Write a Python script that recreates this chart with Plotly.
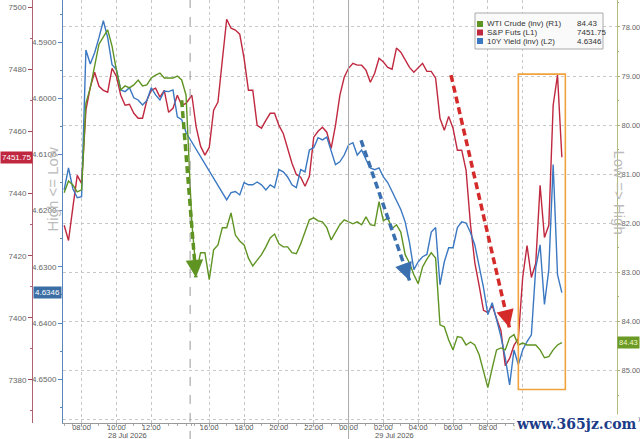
#
# S&P futures vs 10Y yield vs WTI crude - 28/29 Jul 2026 intraday
#

import pandas as pd
import plotly.graph_objects as go


########## Data (15 min bars, session break 14:15-14:55 on 28 Jul)

times_day1 = pd.date_range("2026-07-28 07:00", "2026-07-28 14:00", freq="15min")
times_day2 = pd.date_range("2026-07-28 15:00", "2026-07-29 12:15", freq="15min")
times = times_day1.append(times_day2)

# S&P futures (L1)
spx_day1 = [7429.8, 7424.9, 7435.6, 7445.9, 7443.3, 7466.9, 7474.3, 7479.1, 7474.6, 7473.3,
            7472.7, 7480.4, 7477.8, 7471.7, 7468.5, 7468.8, 7465.9, 7464.3, 7464.3, 7470.1,
            7473.3, 7474.0, 7471.1, 7473.3, 7466.2, 7467.5, 7471.7, 7468.5, 7469.1]
spx_day2 = [7471.7, 7461.4, 7455.3, 7452.4, 7454.9, 7466.9, 7469.5, 7483.0, 7496.2, 7493.3,
            7492.7, 7491.4, 7483.6, 7473.3, 7473.3, 7462.0, 7461.1, 7463.6, 7465.9, 7465.9,
            7462.0, 7459.4, 7454.9, 7449.8, 7446.2, 7445.3, 7442.4, 7445.6, 7458.2, 7460.1,
            7461.4, 7459.8, 7454.6, 7462.0, 7471.7, 7477.5, 7480.4, 7482.0, 7481.4, 7481.4,
            7479.8, 7475.9, 7478.8, 7483.6, 7482.4, 7480.7, 7480.1, 7486.9, 7485.6, 7483.3,
            7480.7, 7479.1, 7480.4, 7482.0, 7479.4, 7479.4, 7477.2, 7464.3, 7460.4, 7464.9,
            7461.1, 7454.0, 7454.0, 7447.5, 7430.1, 7417.8, 7410.4, 7402.4, 7401.7, 7404.0,
            7399.8, 7395.9, 7384.6, 7386.9, 7391.1, 7393.3, 7413.0, 7423.3, 7413.0, 7417.5,
            7442.7, 7425.9, 7429.8, 7468.5, 7478.2, 7451.75]

# 10Y yield (inverted, L2) - no prints around the break
yld_day1 = [4.6163, 4.6124, 4.6161, 4.6177, 4.6175, 4.5914, 4.5939, 4.5919, 4.5892, 4.5862,
            4.5892, 4.5940, 4.5949, 4.5985, 4.5988, 4.5981, 4.5999, 4.6003, 4.6012, 4.6004,
            4.5981, 4.5994, 4.6003, 4.5987, 4.5988, 4.5985, 4.6033, 4.6038, 4.6061]
yld_day2 = [None, None, None, None, None, None, None, None, 4.6181, 4.6168,
            4.6166, 4.6172, 4.6150, 4.6154, 4.6154, 4.6149, 4.6154, 4.6163, 4.6154, 4.6159,
            4.6127, 4.6131, 4.6140, 4.6154, 4.6159, 4.6127, 4.6131, 4.6092, 4.6088, 4.6070,
            4.6074, 4.6069, 4.6092, 4.6118, 4.6113, 4.6101, 4.6083, 4.6079, 4.6101, 4.6092,
            4.6109, 4.6124, 4.6127, 4.6124, 4.6140, 4.6150, 4.6166, 4.6181, 4.6198, 4.6220,
            4.6257, 4.6305, 4.6291, 4.6282, 4.6278, 4.6238, 4.6230, 4.6332, 4.6291, 4.6266,
            4.6266, 4.6230, 4.6220, 4.6222, 4.6239, 4.6261, 4.6296, 4.6337, 4.6385, 4.6364,
            4.6394, 4.6424, 4.6462, 4.6510, 4.6448, 4.6474, 4.6448, 4.6433, 4.6421, 4.6302,
            4.6261, 4.6367, 4.6305, 4.6118, 4.6314, 4.6346]

# WTI crude (inverted, R1)
wti_day1 = [81.38, 81.14, 81.22, 81.36, 81.32, 79.55, 79.24, 78.77, 78.35, 78.20,
            78.06, 78.39, 78.88, 79.28, 79.20, 79.24, 79.18, 79.08, 79.20, 79.18,
            79.04, 78.98, 78.94, 79.04, 79.04, 79.04, 79.00, 79.08, 79.39]
wti_day2 = [82.00, 83.01, 82.60, 82.60, 83.15, 82.54, 82.44, 82.09, 82.09, 81.79,
            82.24, 82.36, 82.44, 82.71, 82.87, 82.75, 82.64, 82.48, 82.30, 82.22,
            82.42, 82.48, 82.48, 82.60, 82.62, 82.42, 82.18, 81.93, 81.89, 81.95,
            81.97, 82.09, 82.34, 82.18, 82.03, 81.93, 81.97, 82.01, 81.97, 82.03,
            81.87, 82.03, 82.05, 81.56, 81.95, 81.89, 82.11, 82.03, 82.18, 82.64,
            82.81, 83.05, 83.23, 82.89, 82.73, 82.60, 82.71, 84.07, 84.11, 84.38,
            84.58, 84.31, 84.33, 84.48, 84.42, 84.48, 84.68, 85.03, 85.35, 84.95,
            84.58, 84.54, 84.58, 84.33, 84.27, 84.48, 84.44, 84.48, 84.48, 84.48,
            84.58, 84.74, 84.72, 84.58, 84.48, 84.43]

spx = spx_day1 + spx_day2
yld = yld_day1 + yld_day2
wti = wti_day1 + wti_day2

tick_times = ["2026-07-28 08:00", "2026-07-28 10:00", "2026-07-28 12:00", "2026-07-28 16:00",
              "2026-07-28 18:00", "2026-07-28 20:00", "2026-07-28 22:00", "2026-07-29 00:00",
              "2026-07-29 02:00", "2026-07-29 04:00", "2026-07-29 06:00", "2026-07-29 08:00",
              "2026-07-29 10:00"]
tick_labels = [t[-5:] for t in tick_times]

RED = "#c0283f"
BLUE = "#3b78c2"
GREEN = "#5f9423"
FONT = "Liberation Sans"

# paper coords helpers (plot area is 640 wide, 423 high)
def px(v):
    return v / 640

def py(v):
    return (423 - v) / 423


######## Figure

fig = go.Figure()
fig.add_trace(go.Scatter(x=times, y=wti, yaxis="y3", mode="lines", name="WTI Crude (inv) (R1)",
                         line=dict(color=GREEN, width=1.4)))
fig.add_trace(go.Scatter(x=times, y=yld, yaxis="y2", mode="lines", name="10Y Yield (inv) (L2)",
                         connectgaps=True, line=dict(color=BLUE, width=1.4)))
fig.add_trace(go.Scatter(x=times, y=spx, yaxis="y", mode="lines", name="S&P Futs (L1)",
                         line=dict(color=RED, width=1.4)))

fig.update_layout(
    width=640, height=439,
    margin=dict(l=0, r=0, t=0, b=16),
    paper_bgcolor="white", plot_bgcolor="white",
    showlegend=False,
    font=dict(family=FONT, size=8, color="#555"),
    xaxis=dict(
        domain=[px(63), px(617)],
        type="date",
        range=["2026-07-28 06:56", "2026-07-29 15:25"],
        rangebreaks=[dict(bounds=["2026-07-28 14:15", "2026-07-28 14:55"])],
        tickvals=tick_times, ticktext=tick_labels,
        tickfont=dict(size=7.5, color="#555"),
        ticks="outside", ticklen=2, tickcolor="#999",
        ticklabelstandoff=-5,
        showline=True, linecolor="#999",
        showgrid=True, gridcolor="#c8c8c8", griddash="dot",
        minor=dict(ticks="outside", ticklen=2, tickcolor="#aaa", dtick=30 * 60 * 1000, showgrid=False),
        automargin=False,
    ),
    yaxis=dict(
        anchor="free", position=px(32), side="left",
        range=[7366.1, 7502.4], dtick=20, tick0=7380,
        tickfont=dict(size=8, color="#666"),
        ticks="outside", ticklen=4, tickcolor="#a04a58",
        showline=True, linecolor="#b06070",
        showgrid=False, zeroline=False,
        minor=dict(ticks="outside", ticklen=2, dtick=10, tickcolor="#b06070"),
        automargin=False,
    ),
    yaxis2=dict(
        overlaying="y", anchor="x", side="left",
        range=[4.6578, 4.5825], dtick=0.01, tick0=4.59, tickformat=".4f",
        tickfont=dict(size=8, color="#666"),
        ticks="outside", ticklen=4, tickcolor="#5a86c0",
        showline=True, linecolor="#5a86c0",
        showgrid=False, zeroline=False,
        minor=dict(ticks="outside", ticklen=2, dtick=0.005, tickcolor="#5a86c0"),
        automargin=False,
    ),
    yaxis3=dict(
        overlaying="y", anchor="x", side="right",
        range=[86.07, 77.45], dtick=1, tick0=78, tickformat=".2f",
        tickfont=dict(size=7.5, color="#666"),
        ticks="outside", ticklen=2, tickcolor="#a8b070",
        showline=True, linecolor="#b5bd7a",
        showgrid=True, gridcolor="#c8c8c8", griddash="dot",
        zeroline=False,
        minor=dict(ticks="outside", ticklen=1, dtick=0.5, tickcolor="#a8b070"),
        automargin=False,
    ),
)

# session break and midnight separators
fig.add_shape(type="line", xref="x", yref="paper", x0="2026-07-28 14:14", x1="2026-07-28 14:14",
              y0=-0.04, y1=1, line=dict(color="#999", width=1, dash="dash"))
fig.add_shape(type="line", xref="x", yref="paper", x0="2026-07-29 00:00", x1="2026-07-29 00:00",
              y0=-0.04, y1=1, line=dict(color="#aaa", width=1))

# orange box round the last hours
fig.add_shape(type="rect", xref="x", yref="y", x0="2026-07-29 09:45", x1="2026-07-29 12:27",
              y0=7376.9, y1=7478.5, line=dict(color="#f2a23c", width=1.6))

# dashed arrows
arrows = [
    ("2026-07-28 13:45", 7470.1, "2026-07-28 15:14", 7413.0, GREEN, -1, -12),
    ("2026-07-29 00:43", 7457.2, "2026-07-29 03:30", 7412.0, "#3a70b0", -4, -11),
    ("2026-07-29 05:53", 7478.2, "2026-07-29 09:14", 7396.9, "#d42a2a", -3, -12),
]
for x0, y0, x1, y1, col, ax, ay in arrows:
    fig.add_shape(type="line", xref="x", yref="y", x0=x0, y0=y0, x1=x1, y1=y1,
                  line=dict(color=col, width=3.5, dash="7px,4px"))
    fig.add_annotation(x=x1, y=y1, xref="x", yref="y", text="", showarrow=True,
                       arrowhead=2, arrowsize=1, arrowwidth=3.5, arrowcolor=col,
                       ax=ax, ay=ay, standoff=0)

# legend box
fig.add_shape(type="rect", xref="paper", yref="paper", x0=px(475), x1=px(603), y0=py(49), y1=py(13),
              fillcolor="rgba(250,250,250,0.95)", line=dict(color="#aaa", width=1))
legend_rows = [("WTI Crude (inv) (R1)", "84.43", GREEN, 24),
               ("S&amp;P Futs (L1)", "7451.75", RED, 32.5),
               ("10Y Yield (inv) (L2)", "4.6346", BLUE, 41)]
for label, value, col, row in legend_rows:
    fig.add_shape(type="rect", xref="paper", yref="paper", x0=px(477), x1=px(483),
                  y0=py(row + 3), y1=py(row - 3), fillcolor=col, line=dict(width=0))
    fig.add_annotation(x=px(485), y=py(row), xref="paper", yref="paper", text=label,
                       xanchor="left", yanchor="middle", showarrow=False,
                       font=dict(size=8, color="#333"))
    fig.add_annotation(x=px(575), y=py(row), xref="paper", yref="paper", text=value,
                       xanchor="left", yanchor="middle", showarrow=False,
                       font=dict(size=8, color="#333"))

# last value tags
fig.add_annotation(x=0, y=7451.75, xref="paper", yref="y", text="7451.75", xanchor="left",
                   showarrow=False, bgcolor=RED, borderpad=1, font=dict(size=8, color="white"))
fig.add_annotation(x=px(33), y=4.6346, xref="paper", yref="y2", text="4.6346", xanchor="left",
                   showarrow=False, bgcolor="#3a6ea5", borderpad=1, font=dict(size=8, color="white"))
fig.add_annotation(x=1, y=84.43, xref="paper", yref="y3", text="84.43", xanchor="right",
                   showarrow=False, bgcolor="#6c9a26", borderpad=1, font=dict(size=7.5, color="#f0f8c8"))

# axis direction titles
fig.add_annotation(x=px(41), y=py(190), xref="paper", yref="paper", text="High &lt;= Low",
                   textangle=-90, showarrow=False, font=dict(size=15, color="#bbb"))
fig.add_annotation(x=px(630), y=py(192), xref="paper", yref="paper", text="Low =&gt; High",
                   textangle=90, showarrow=False, font=dict(size=15, color="#bbb"))

# date labels under the hours
fig.add_annotation(x="2026-07-28 10:38", y=py(435), xref="x", yref="paper", text="28 Jul 2026",
                   showarrow=False, yanchor="middle", font=dict(size=7.5, color="#555"))
fig.add_annotation(x="2026-07-29 02:38", y=py(435), xref="x", yref="paper", text="29 Jul 2026",
                   showarrow=False, yanchor="middle", font=dict(size=7.5, color="#555"))

# watermark
fig.add_annotation(x=px(576), y=py(424), xref="paper", yref="paper", text="<b>www.365jz.com</b>",
                   showarrow=False, bgcolor="white", xanchor="center", yanchor="middle",
                   font=dict(family="DejaVu Serif", size=14, color="#1d3c87"))

# page body has a default 8px margin; drop it so the figure fills the window
fig.write_html("out.html", config={"displayModeBar": False},
               post_script="document.body.style.margin='0px';")
